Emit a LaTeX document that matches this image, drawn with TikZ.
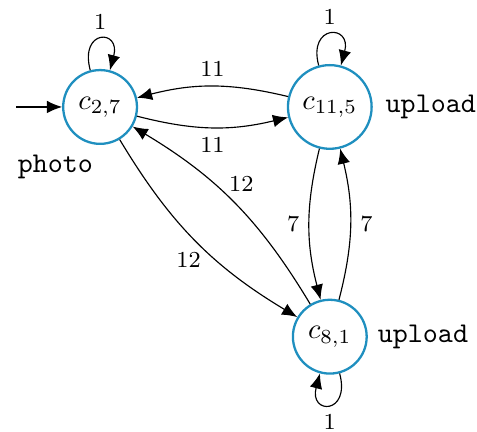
\documentclass[tikz,border=0pt]{standalone}
\usepackage{tikz}
\usepackage[dvipsnames]{xcolor}
\usetikzlibrary{arrows.meta, positioning}
\definecolor{StateBlue}{RGB}{31,143,191}
\def\StateColor{StateBlue}

\begin{document}
\begin{tikzpicture}[
node distance = 52pt,
     S/.style = {draw=\StateColor, circle, thick, minimum size=25.8pt},
   lbl/.style = {font=\footnotesize, auto, swap},
  dlbl/.style = {lbl, inner sep=1pt, pos=0.55},
    bd/.style = {bend right=14},
    every edge/.style={draw, -{Latex[length=5.3pt, width=4.4pt]}, thin},
    every loop/.style={looseness=1, min distance=15pt}
                        ]
\useasboundingbox (-35pt,37.4pt) rectangle (131.8pt,-113.6pt);
\node[S] (c27) at (0,0) {$c_{2,7}$};
\node[S, right =of c27
     , label={[name=up115, label distance=1pt]east:\texttt{upload}}
     ]  (c115)     {$c_{11,5}$};
\node[S, below =of c115
     , label={[name=up81]east:\texttt{upload}}
     ]  (c81)      {$c_{8,1}$};
\coordinate[left=16pt of c27] (init);
\node (photo) at (-15.6pt,-21pt) {\texttt{photo}};

\draw[-{Latex[length=5.3pt, width=4.4pt]}] (init) -- (c27);
\draw   (c27)  edge[loop above] node[above, font=\footnotesize] {1} (c27)
        (c115) edge[loop above] node[above, font=\footnotesize] {1} (c115)
        (c81)  edge[loop below] node[below, font=\footnotesize] {1} (c81)
        (c115) edge[bd] node[lbl] {11} (c27)
        (c27)  edge[bd] node[lbl] {11} (c115)
        (c27)  edge[bd] node[dlbl] {12} (c81)
        (c81)  edge[bd] node[dlbl] {12} (c27)
        (c115) edge[bd] node[lbl] {7} (c81)
        (c81)  edge[bd] node[lbl] {7} (c115);
\end{tikzpicture}
\end{document}
